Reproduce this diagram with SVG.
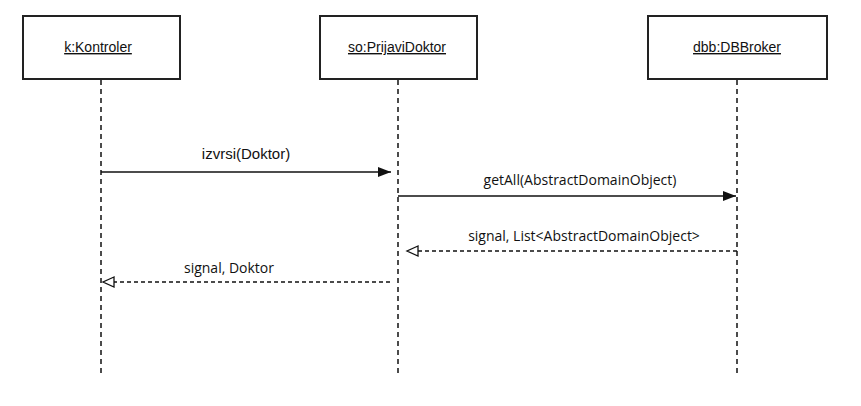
<svg xmlns="http://www.w3.org/2000/svg" width="861" height="406" viewBox="0 0 861 406">
<style>
.box{fill:#fff;stroke:#222;stroke-width:2}
.life{stroke:#111;stroke-width:1.5;stroke-dasharray:5 4;fill:none}
.title{font-family:"Liberation Sans",Arial,sans-serif;font-size:14px;fill:#111;text-anchor:middle;text-decoration:underline}
.msg{stroke:#111;stroke-width:1.5;fill:none}
.ret{stroke:#111;stroke-width:1.3;stroke-dasharray:4 3;fill:none}
.lbl{font-family:"Open Sans","Noto Sans",sans-serif;font-size:14px;fill:#111;text-anchor:middle}
.lbl2{font-family:"Liberation Sans",Arial,sans-serif;font-size:15px;fill:#111;text-anchor:middle}
.head{fill:#fff;stroke:#111;stroke-width:1.3}
</style>
<defs>
<marker id="filled" markerWidth="14" markerHeight="10" refX="13" refY="5" orient="auto" markerUnits="userSpaceOnUse">
<path d="M0,0 L13,5 L0,10 Z" fill="#111"/>
</marker>
</defs>
<g id="connectors">
<line class="life" x1="101" y1="80" x2="101" y2="376"/>
<line class="life" x1="398" y1="80" x2="398" y2="376"/>
<line class="life" x1="737" y1="80" x2="737" y2="376"/>
<line class="msg" x1="101" y1="172" x2="391" y2="172" marker-end="url(#filled)"/>
<text class="lbl2" x="246" y="159">izvrsi(Doktor)</text>
<line class="msg" x1="398" y1="196" x2="736" y2="196" marker-end="url(#filled)"/>
<text class="lbl" x="580" y="185">getAll(AbstractDomainObject)</text>
<line class="ret" x1="737" y1="251" x2="418" y2="251"/>
<path class="head" d="M418,246 L407,251 L418,256 Z"/>
<text class="lbl" x="584" y="241">signal, List&lt;AbstractDomainObject&gt;</text>
<line class="ret" x1="390" y1="282" x2="114" y2="282"/>
<path class="head" d="M114,277 L103,282 L114,287 Z"/>
<text class="lbl" x="229" y="273">signal, Doktor</text>
</g>
<g id="node-kontroler">
<rect class="box" x="23" y="16" width="157" height="63"/>
<text class="title" x="98" y="52">k:Kontroler</text>
</g>
<g id="node-prijavidoktor">
<rect class="box" x="320" y="16" width="157" height="63"/>
<text class="title" x="397" y="52">so:PrijaviDoktor</text>
</g>
<g id="node-dbbroker">
<rect class="box" x="648" y="16" width="179" height="63"/>
<text class="title" x="737" y="52">dbb:DBBroker</text>
</g>
</svg>
